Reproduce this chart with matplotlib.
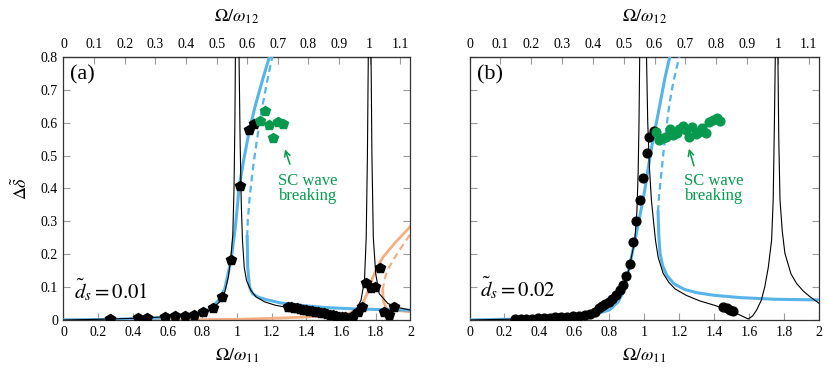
import matplotlib
matplotlib.use("Agg")
import matplotlib.pyplot as plt

plt.rcParams['font.family'] = ['Liberation Serif', 'DejaVu Serif']
plt.rcParams['mathtext.fontset'] = 'stix'

# ratio omega12 / omega11 used for the top axis
w_ratio = 1.765

# ---- panel (a), d_s = 0.01 ----
blk_a_x = [0.0, 0.2, 0.4, 0.6, 0.7, 0.8, 0.85, 0.9, 0.93, 0.95, 0.965, 0.976, 0.983, 0.988, 0.991, 1.0,
           1.012, 1.018, 1.025, 1.032, 1.042, 1.055, 1.08, 1.11, 1.16, 1.22, 1.3, 1.4, 1.48, 1.55, 1.6, 1.62,
           1.65, 1.69, 1.715, 1.735, 1.745, 1.752, 1.757, 1.765, 1.773, 1.778, 1.786, 1.8, 1.82, 1.87, 1.93, 2.0]
blk_a_y = [0.0, 0.002, 0.005, 0.01, 0.014, 0.022, 0.03, 0.055, 0.085, 0.13, 0.19, 0.26, 0.4, 0.6, 0.8, 3.0,
           0.8, 0.55, 0.35, 0.24, 0.16, 0.12, 0.09, 0.07, 0.055, 0.045, 0.037, 0.028, 0.02, 0.011, 0.003, 0.0,
           0.012, 0.035, 0.06, 0.12, 0.25, 0.5, 0.8, 3.0, 0.8, 0.5, 0.25, 0.14, 0.08, 0.05, 0.038, 0.03]

blue_a_x = [0.0, 0.3, 0.5, 0.6, 0.7, 0.8, 0.85, 0.9, 0.93, 0.966, 0.99, 1.014, 1.04, 1.072, 1.1, 1.12, 1.15, 1.187, 1.2]
blue_a_y = [0.0, 0.002, 0.005, 0.008, 0.012, 0.023, 0.035, 0.063, 0.095, 0.182, 0.28, 0.41, 0.49, 0.578, 0.64, 0.679, 0.735, 0.8, 0.82]
blue_dash_a_x = [1.059, 1.062, 1.072, 1.085, 1.101, 1.12, 1.139, 1.17, 1.203, 1.21]
blue_dash_a_y = [0.253, 0.3, 0.365, 0.43, 0.496, 0.565, 0.628, 0.715, 0.8, 0.82]
blue_low_a_x = [1.059, 1.062, 1.072, 1.09, 1.12, 1.168, 1.25, 1.36, 1.5, 1.667, 1.8, 2.0]
blue_low_a_y = [0.253, 0.16, 0.101, 0.08, 0.07, 0.062, 0.052, 0.045, 0.038, 0.034, 0.032, 0.03]

orng_a_x = [0.0, 0.5, 1.0, 1.2, 1.4, 1.55, 1.648, 1.7, 1.725, 1.75, 1.783, 1.81, 1.84, 1.88, 1.917, 1.96, 2.0]
orng_a_y = [0.0, 0.0, 0.002, 0.005, 0.009, 0.014, 0.02, 0.035, 0.05, 0.08, 0.13, 0.16, 0.19, 0.215, 0.238, 0.262, 0.285]
orng_dash_a_x = [1.84, 1.85, 1.86, 1.879, 1.91, 1.937, 1.97, 2.0]
orng_dash_a_y = [0.091, 0.12, 0.14, 0.162, 0.19, 0.213, 0.238, 0.262]
orng_low_a_x = [1.84, 1.843, 1.86, 1.9, 2.0]
orng_low_a_y = [0.091, 0.06, 0.035, 0.03, 0.025]

sim_a_x = [0.269, 0.432, 0.482, 0.588, 0.642, 0.699, 0.751, 0.807, 0.861, 0.913, 0.966, 1.02, 1.072, 1.101,
           1.293, 1.31, 1.327, 1.345, 1.362, 1.379, 1.397, 1.414, 1.431, 1.449, 1.466, 1.483, 1.501, 1.518,
           1.535, 1.553, 1.57, 1.587, 1.605, 1.625, 1.668, 1.697, 1.722, 1.745, 1.773, 1.798, 1.827, 1.85, 1.879, 1.908]
sim_a_y = [0.003, 0.007, 0.007, 0.009, 0.011, 0.013, 0.016, 0.023, 0.037, 0.071, 0.182, 0.408, 0.578, 0.596,
           0.040, 0.038, 0.036, 0.035, 0.033, 0.031, 0.030, 0.028, 0.027, 0.025, 0.024, 0.022, 0.020, 0.018,
           0.016, 0.014, 0.012, 0.010, 0.008, 0.010, 0.012, 0.025, 0.040, 0.111, 0.096, 0.101, 0.157, 0.025, 0.015, 0.040]
brk_a_x = [1.13, 1.159, 1.183, 1.206, 1.235, 1.264]
brk_a_y = [0.605, 0.636, 0.593, 0.554, 0.603, 0.596]

# ---- panel (b), d_s = 0.02 ----
blk_b_x = [0.0, 0.2, 0.3, 0.4, 0.5, 0.6, 0.7, 0.75, 0.8, 0.84, 0.87, 0.907, 0.93, 0.946, 0.958, 0.965, 0.970, 0.974, 0.995,
           1.013, 1.02, 1.03, 1.041, 1.055, 1.065, 1.08, 1.108, 1.14, 1.175, 1.24, 1.318, 1.4, 1.47, 1.54, 1.595,
           1.62, 1.643, 1.67, 1.69, 1.71, 1.729, 1.738, 1.745, 1.75, 1.757, 1.765, 1.77, 1.777, 1.79, 1.805,
           1.84, 1.872, 1.91, 1.948, 2.0]
blk_b_y = [0.0, 0.002, 0.003, 0.005, 0.007, 0.011, 0.02, 0.03, 0.042, 0.058, 0.085, 0.142, 0.2, 0.243, 0.33, 0.446, 0.6, 0.8, 3.0,
           0.8, 0.6, 0.46, 0.365, 0.29, 0.24, 0.19, 0.142, 0.115, 0.095, 0.075, 0.058, 0.045, 0.032, 0.017, 0.003,
           0.012, 0.03, 0.06, 0.101, 0.16, 0.243, 0.365, 0.6, 0.8, 3.0, 0.8, 0.55, 0.365, 0.27, 0.203,
           0.14, 0.111, 0.088, 0.071, 0.051]

blue_b_x = [0.0, 0.3, 0.5, 0.6, 0.7, 0.8, 0.85, 0.88, 0.907, 0.93, 0.955, 0.98, 1.003, 1.025, 1.05, 1.075, 1.098, 1.12, 1.146, 1.16]
blue_b_y = [0.0, 0.003, 0.006, 0.009, 0.015, 0.03, 0.055, 0.085, 0.142, 0.2, 0.264, 0.33, 0.395, 0.47, 0.548, 0.615, 0.679, 0.74, 0.8, 0.83]
blue_dash_b_x = [1.079, 1.085, 1.098, 1.11, 1.127, 1.145, 1.165, 1.2, 1.21]
blue_dash_b_y = [0.329, 0.38, 0.446, 0.51, 0.588, 0.66, 0.72, 0.8, 0.83]
blue_low_b_x = [1.079, 1.083, 1.09, 1.105, 1.13, 1.17, 1.23, 1.3, 1.4, 1.55, 1.75, 2.0]
blue_low_b_y = [0.329, 0.26, 0.205, 0.165, 0.135, 0.11, 0.093, 0.083, 0.075, 0.068, 0.063, 0.061]

sim_b_x = [0.258, 0.292, 0.325, 0.359, 0.392, 0.424, 0.458, 0.491, 0.525, 0.557, 0.592, 0.625, 0.659, 0.692,
           0.716, 0.741, 0.760, 0.777, 0.797, 0.818, 0.841, 0.860, 0.879, 0.898, 0.917, 0.936, 0.955, 0.974,
           0.993, 1.013, 1.028, 1.054, 1.452, 1.475, 1.49, 1.509]
sim_b_y = [0.003, 0.003, 0.004, 0.004, 0.005, 0.006, 0.007, 0.008, 0.009, 0.010, 0.012, 0.013, 0.015, 0.018,
           0.025, 0.035, 0.043, 0.049, 0.054, 0.065, 0.076, 0.091, 0.106, 0.134, 0.169, 0.238, 0.301, 0.365,
           0.433, 0.507, 0.556, 0.576, 0.040, 0.035, 0.030, 0.028]
brk_b_x = [1.070, 1.085, 1.108, 1.127, 1.146, 1.165, 1.188, 1.199, 1.219, 1.238, 1.257, 1.276, 1.299, 1.314,
           1.333, 1.352, 1.371, 1.394, 1.414, 1.433]
brk_b_y = [0.573, 0.548, 0.553, 0.558, 0.580, 0.563, 0.570, 0.580, 0.590, 0.578, 0.558, 0.586, 0.566, 0.573,
           0.583, 0.568, 0.603, 0.608, 0.613, 0.605]

bottom_ticks = [0, 0.2, 0.4, 0.6, 0.8, 1, 1.2, 1.4, 1.6, 1.8, 2]
bottom_labels = ['0', '0.2', '0.4', '0.6', '0.8', '1', '1.2', '1.4', '1.6', '1.8', '2']
top_ticks = [0, 0.1, 0.2, 0.3, 0.4, 0.5, 0.6, 0.7, 0.8, 0.9, 1.0, 1.1]
top_labels = ['0', '0.1', '0.2', '0.3', '0.4', '0.5', '0.6', '0.7', '0.8', '0.9', '1', '1.1']
y_ticks = [0, 0.1, 0.2, 0.3, 0.4, 0.5, 0.6, 0.7, 0.8]
y_labels = ['0', '0.1', '0.2', '0.3', '0.4', '0.5', '0.6', '0.7', '0.8']

c_blue = '#56B4E9'
c_orng = '#F6AE82'
c_green = '#079A4E'
tick_col = '#9a9a9a'

fig = plt.figure(figsize=(8.3, 3.76), dpi=100)
ax1 = fig.add_axes([0.0765, 0.149, 0.418, 0.6995])
ax2 = fig.add_axes([0.5657, 0.149, 0.421, 0.6995])


def style(ax, show_y):
    ax.set_xlim(0, 2)
    ax.set_ylim(0, 0.8)
    ax.set_xticks(bottom_ticks)
    ax.set_xticklabels(bottom_labels)
    ax.set_yticks(y_ticks)
    if show_y:
        ax.set_yticklabels(y_labels)
    else:
        ax.set_yticklabels([])
    ax.tick_params(direction='in', length=5, width=0.8, color=tick_col, labelsize=10,
                   left=True, right=True, bottom=True, top=False, pad=4)
    for s in ax.spines.values():
        s.set_linewidth(0.9)
        s.set_color('#333333')
    ax.set_xlabel(r'$\Omega/\omega_{11}$', fontsize=13, labelpad=6)
    sec = ax.secondary_xaxis('top', functions=(lambda x: x / w_ratio, lambda t: t * w_ratio))
    sec.set_xticks(top_ticks)
    sec.set_xticklabels(top_labels)
    sec.tick_params(direction='in', length=5, width=0.8, color=tick_col, labelsize=10, pad=4)
    sec.set_xlabel(r'$\Omega/\omega_{12}$', fontsize=13, labelpad=12)


style(ax1, True)
style(ax2, False)
ax1.set_ylabel(r'$\Delta\tilde{\delta}$', fontsize=13, labelpad=7)

# panel (a)
ax1.plot(orng_a_x, orng_a_y, color=c_orng, lw=2.0, zorder=2)
ax1.plot(orng_dash_a_x, orng_dash_a_y, color=c_orng, lw=1.6, ls=(0, (3, 2)), zorder=2)
ax1.plot(orng_low_a_x, orng_low_a_y, color=c_orng, lw=2.0, zorder=2)
ax1.plot(blue_a_x, blue_a_y, color=c_blue, lw=2.2, zorder=3)
ax1.plot(blue_dash_a_x, blue_dash_a_y, color=c_blue, lw=1.6, ls=(0, (3, 2)), zorder=3)
ax1.plot(blue_low_a_x, blue_low_a_y, color=c_blue, lw=2.2, zorder=3)
ax1.plot(blk_a_x, blk_a_y, color='black', lw=0.8, zorder=4)
ax1.plot(sim_a_x, sim_a_y, ls='none', marker='p', ms=7, color='black', zorder=5)
ax1.plot(brk_a_x, brk_a_y, ls='none', marker='p', ms=7, color=c_green, zorder=5)
ax1.text(1.41, 0.40, 'SC wave\nbreaking', color=c_green, fontsize=12, ha='center', va='center', linespacing=0.95)
ax1.annotate('', xy=(1.272, 0.527), xytext=(1.31, 0.466),
             arrowprops=dict(arrowstyle='->', color=c_green, lw=1.1))
ax1.text(0.04, 0.745, '(a)', fontsize=16, ha='left', va='center')
ax1.text(0.06, 0.092, r'$\tilde{d}_s = 0.01$', fontsize=15, ha='left', va='center')

# panel (b)
ax2.plot(blue_b_x, blue_b_y, color=c_blue, lw=2.2, zorder=3)
ax2.plot(blue_dash_b_x, blue_dash_b_y, color=c_blue, lw=1.6, ls=(0, (3, 2)), zorder=3)
ax2.plot(blue_low_b_x, blue_low_b_y, color=c_blue, lw=2.2, zorder=3)
ax2.plot(blk_b_x, blk_b_y, color='black', lw=0.8, zorder=4)
ax2.plot(sim_b_x, sim_b_y, ls='none', marker='o', ms=6.3, color='black', zorder=5)
ax2.plot(brk_b_x, brk_b_y, ls='none', marker='o', ms=6.3, color=c_green, zorder=5)
ax2.text(1.398, 0.40, 'SC wave\nbreaking', color=c_green, fontsize=12, ha='center', va='center', linespacing=0.95)
ax2.annotate('', xy=(1.251, 0.529), xytext=(1.289, 0.461),
             arrowprops=dict(arrowstyle='->', color=c_green, lw=1.1))
ax2.text(0.04, 0.745, '(b)', fontsize=16, ha='left', va='center')
ax2.text(0.06, 0.097, r'$\tilde{d}_s = 0.02$', fontsize=15, ha='left', va='center')

fig.savefig('out.png', dpi=100)
